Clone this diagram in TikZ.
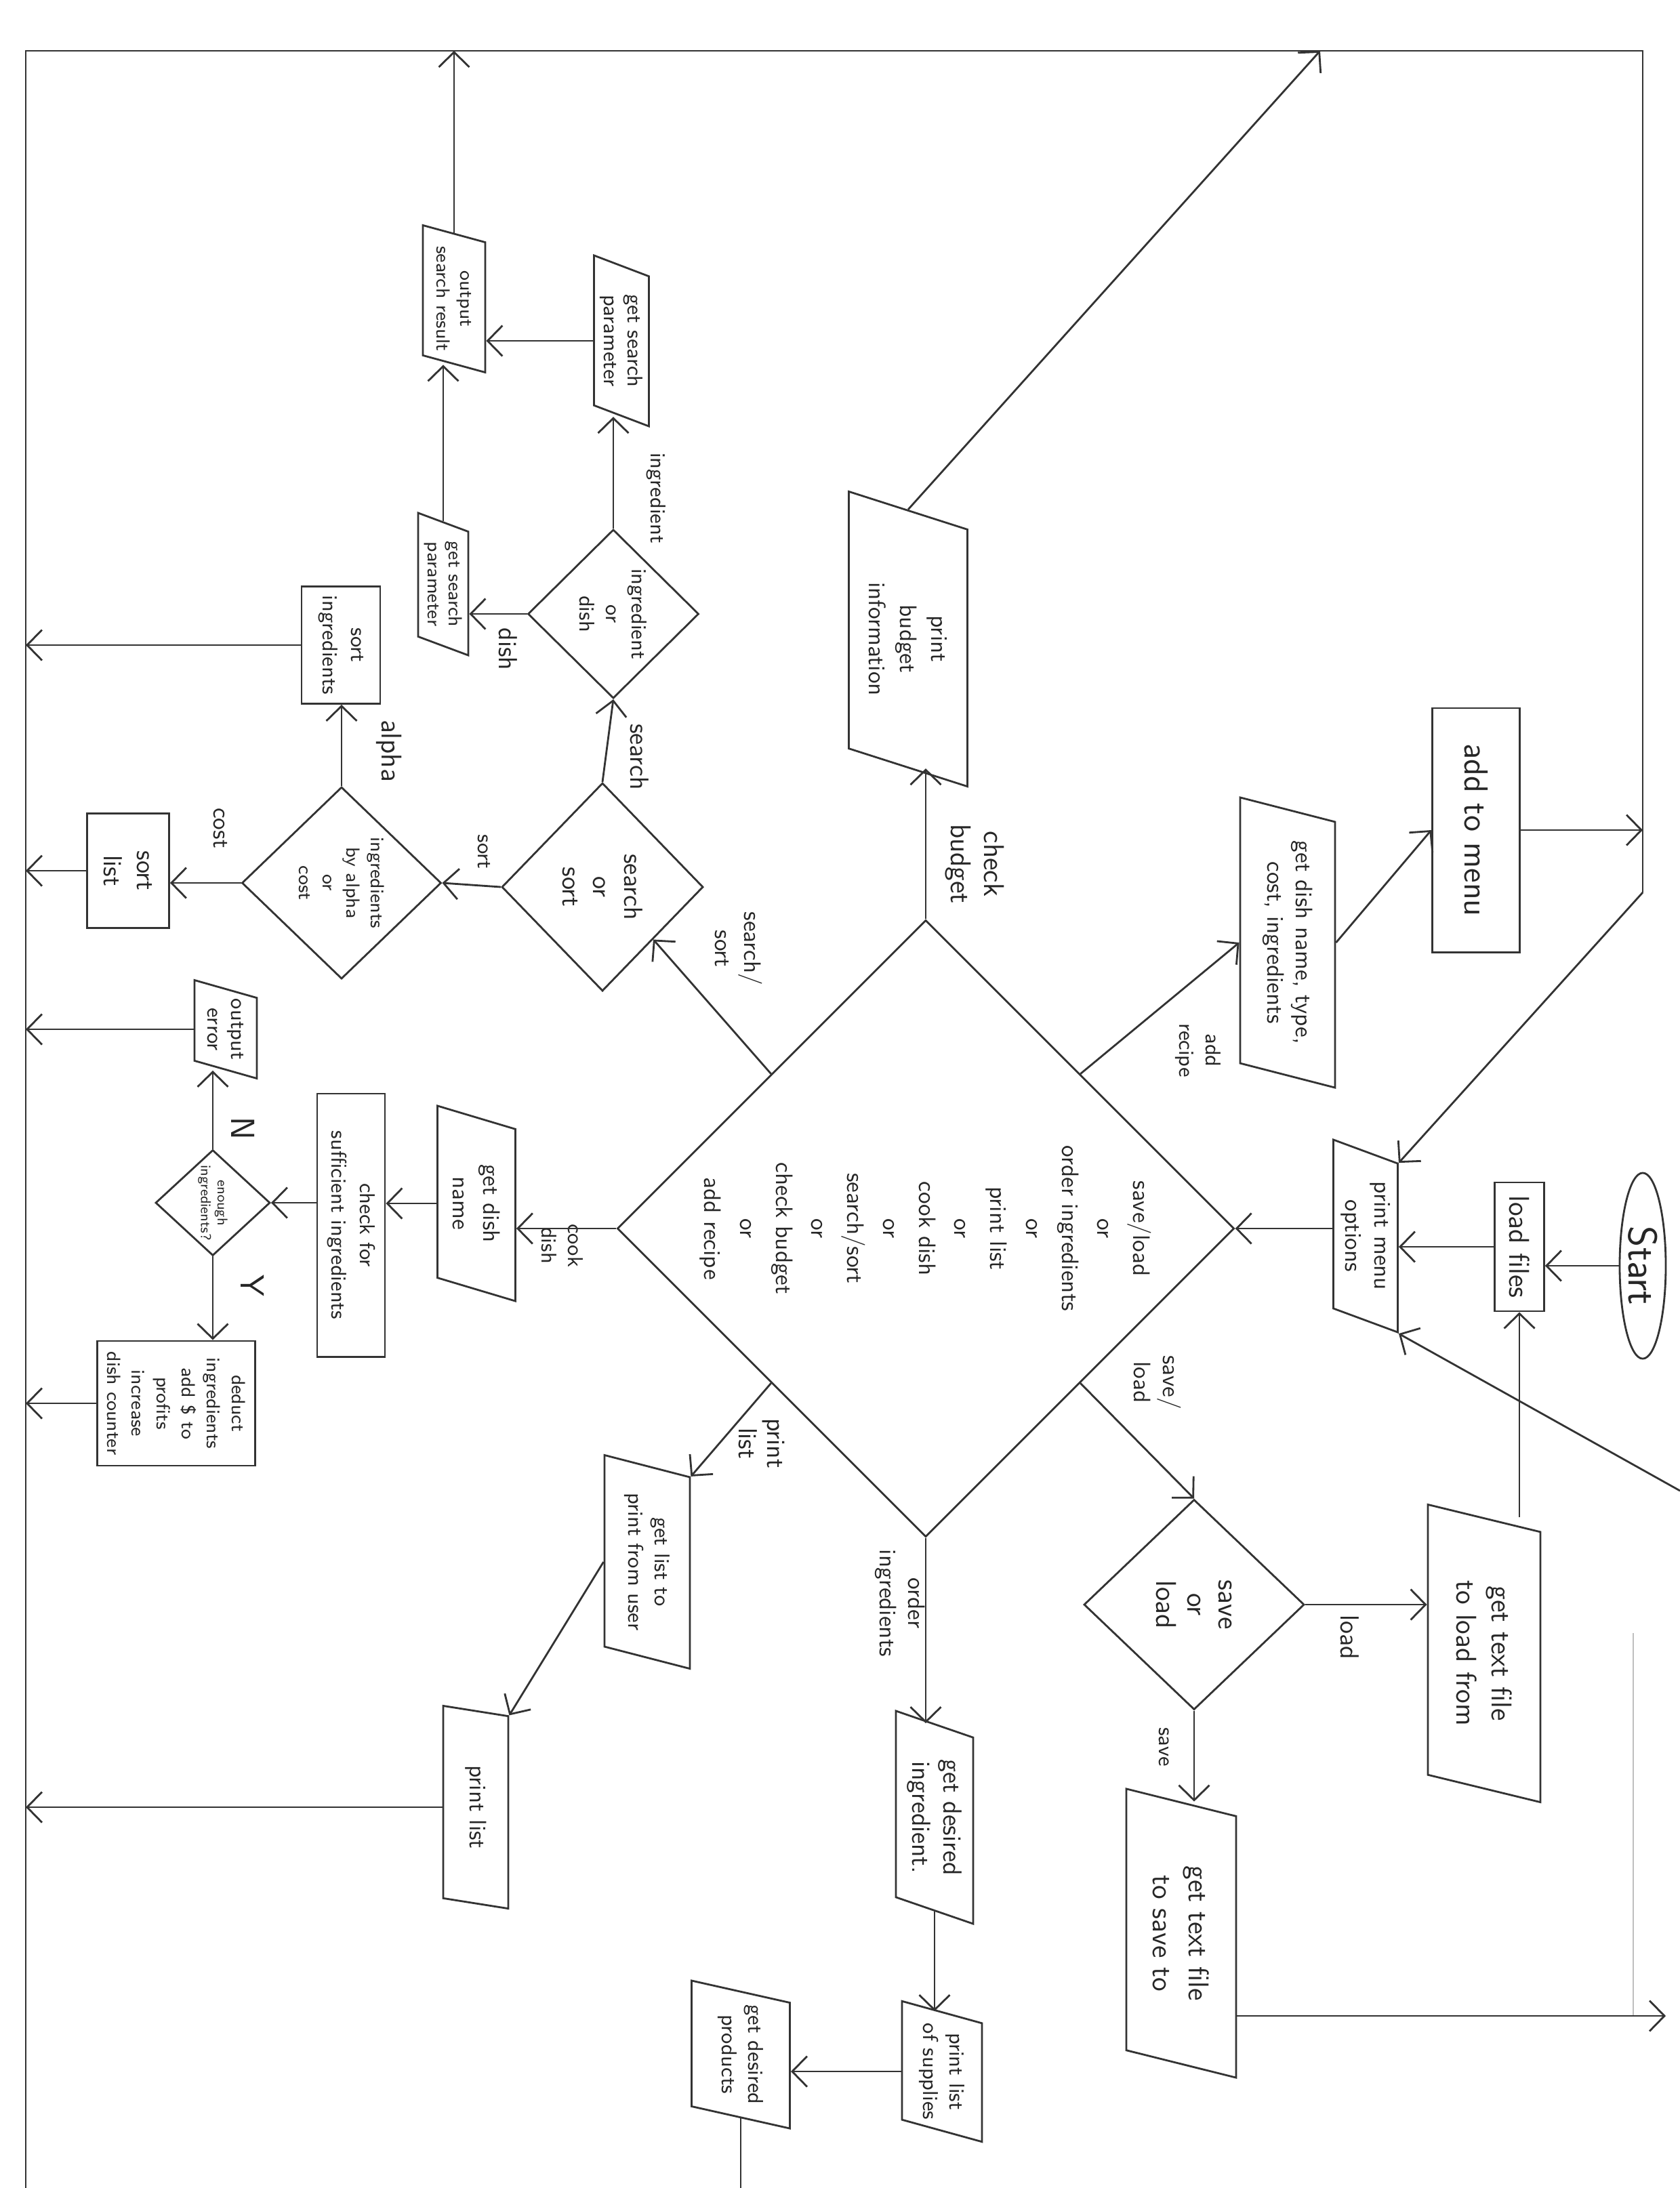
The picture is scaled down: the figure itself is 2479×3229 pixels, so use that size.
\documentclass[tikz,border=0pt]{standalone}
\usetikzlibrary{shapes.geometric,arrows.meta}
\newcommand{\fsz}[2]{\fontsize{#1}{#2}\selectfont}
\tikzset{
	box/.style={draw, rectangle, rotate=-90, inner sep=1pt, align=center},
	inout/.style={draw, trapezium, trapezium left angle=64, trapezium right angle=116, trapezium stretches body, rotate=-90, inner sep=0pt, align=center},
	choice/.style={draw, diamond, rotate=-90, inner sep=0pt, align=center},
	lbl/.style={rotate=-90, align=center, inner sep=1pt},
	arr/.style={-{Straight Barb[length=2.2mm,width=4.5mm]}},
}
\begin{document}
\begin{tikzpicture}[x=0.01cm, y=-0.01cm, line width=0.8pt, draw=black!80, text=black!85, font=\sffamily]
	\useasboundingbox (0,0) rectangle (2479,3229);

	% return lines round the page
	\coordinate (tl) at (38,75);
	\coordinate (tr) at (2424,75);
	\coordinate (bl) at (38,3229);
	\coordinate (rbend) at (2424,1317);
	\coordinate (rlow) at (2479,2200);
	\coordinate (rsave) at (2458,2975);
	\coordinate (ptop) at (1948,75);
	\coordinate (pbot) at (1081,3229);

	% start, menu
	\node[ellipse, draw, rotate=-90, minimum width=2.74cm, minimum height=0.68cm, inner sep=0pt, font=\sffamily\fsz{17}{20}] (start) at (2424,1868) {Start};
	\node[box, minimum width=1.9cm, minimum height=0.73cm, font=\sffamily\fsz{12}{14}] (loadfiles) at (2242,1840) {load files};
	\node[inout, minimum width=2.84cm, minimum height=0.95cm, font=\sffamily\fsz{10}{12}] (pmo) at (2015,1824) {print menu\\options};
	\node[choice, minimum width=9.1cm, minimum height=9.1cm, inner sep=-4mm, font=\sffamily\fsz{10}{15}] (main) at (1366,1813) {save/load\\or\\order ingredients\\or\\print list\\or\\cook dish\\or\\search/sort\\or\\check budget\\or\\add recipe};

	% add recipe
	\node[box, minimum width=3.6cm, minimum height=1.29cm, font=\sffamily\fsz{14}{16}] (addmenu) at (2178,1225) {add to menu};
	\node[inout, minimum width=4.28cm, minimum height=1.4cm, font=\sffamily\fsz{10}{12}] (getdish) at (1900,1391) {get dish name, type,\\cost, ingredients};

	% save / load
	\node[choice, minimum width=3.1cm, minimum height=3.25cm, font=\sffamily\fsz{12}{13}] (saveload) at (1762,2368) {save\\or\\load};
	\node[inout, minimum width=4.39cm, minimum height=1.66cm, font=\sffamily\fsz{12}{15}] (loadfrom) at (2190,2440) {get text file\\to load from};
	\node[inout, minimum width=4.26cm, minimum height=1.62cm, font=\sffamily\fsz{12}{15}] (saveto) at (1743,2853) {get text file\\to save to};

	% order ingredients
	\node[inout, minimum width=3.14cm, minimum height=1.14cm, font=\sffamily\fsz{11}{13}] (getingr) at (1379,2682) {get desired\\ingredient.};
	\node[inout, minimum width=1.85cm, minimum height=1.18cm, font=\sffamily\fsz{9}{11}] (supplies) at (1390,3057) {print list\\of supplies};
	\node[inout, minimum width=2.18cm, minimum height=1.45cm, font=\sffamily\fsz{9}{11}] (products) at (1093,3032) {get desired\\products};

	% print list
	\node[inout, minimum width=3.15cm, minimum height=1.26cm, font=\sffamily\fsz{9}{11}] (getlist) at (955,2305) {get list to\\print from user};
	\node[inout, minimum width=2.99cm, minimum height=0.96cm, font=\sffamily\fsz{10}{12}] (printlist) at (702,2667) {print list};

	% cook dish
	\node[inout, minimum width=2.88cm, minimum height=1.15cm, font=\sffamily\fsz{10}{13}] (dishname) at (703,1776) {get dish\\name};
	\node[box, minimum width=3.88cm, minimum height=1cm, font=\sffamily\fsz{9}{12}] (check) at (518,1808) {check for\\sufficient ingredients};
	\node[choice, minimum width=1.56cm, minimum height=1.69cm, inner sep=-2pt, font=\sffamily\fsz{6}{7}] (enough) at (314,1775) {enough\\ingredients?};
	\node[inout, minimum width=1.45cm, minimum height=0.92cm, font=\sffamily\fsz{9}{10}] (outerr) at (333,1519) {output\\error};
	\node[box, minimum width=1.84cm, minimum height=2.33cm, font=\sffamily\fsz{8}{10.5}] (deduct) at (260,2071) {deduct\\ingredients\\add \$ to\\profits\\increase\\dish counter};

	% search / sort
	\node[choice, minimum width=3.07cm, minimum height=2.97cm, font=\sffamily\fsz{11}{13}] (searchsort) at (889,1309) {search\\or\\sort};
	\node[choice, minimum width=2.83cm, minimum height=2.94cm, font=\sffamily\fsz{8}{10}] (alphacost) at (504,1303) {ingredients\\by alpha\\or\\cost};
	\node[box, minimum width=1.73cm, minimum height=1.16cm, font=\sffamily\fsz{9}{12}] (sortingr) at (503,952) {sort\\ingredients};
	\node[box, minimum width=1.69cm, minimum height=1.21cm, font=\sffamily\fsz{11}{14}] (sortlist) at (189,1285) {sort\\list};
	\node[choice, minimum width=2.49cm, minimum height=2.52cm, font=\sffamily\fsz{9}{11}] (ingrdish) at (905,906) {ingredient\\or\\dish};
	\node[inout, minimum width=2.52cm, minimum height=0.81cm, font=\sffamily\fsz{9}{10}] (getparam1) at (917,503) {get search\\parameter};
	\node[inout, minimum width=2.1cm, minimum height=0.74cm, font=\sffamily\fsz{8}{9}] (getparam2) at (654,862) {get search\\parameter};
	\node[inout, minimum width=2.17cm, minimum height=0.92cm, font=\sffamily\fsz{8}{10}] (outsearch) at (670,441) {output\\search result};

	% check budget
	\node[inout, minimum width=4.35cm, minimum height=1.75cm, font=\sffamily\fsz{10}{13}] (budget) at (1340,943) {print\\budget\\information};

	% branch labels
	\node[lbl, font=\sffamily\fsz{9}{11}] (lrecipe) at (1768,1550) {add\\recipe};
	\node[lbl, font=\sffamily\fsz{10}{12}] (lsaveload) at (1708,2040) {save/\\load};
	\node[lbl, font=\sffamily\fsz{11}{13}] (lload) at (1992,2416) {load};
	\node[lbl, font=\sffamily\fsz{9}{11}] (lsave) at (1718,2578) {save};
	\node[lbl, font=\sffamily\fsz{10}{12}] (lorder) at (1328,2366) {order\\ingredients};
	\node[lbl, font=\sffamily\fsz{11}{12}] (lprint) at (1124,2130) {print\\list};
	\node[lbl, font=\sffamily\fsz{9}{11}] (lcook) at (830,1838) {cook\\dish};
	\node[lbl, font=\sffamily\fsz{14}{16}] (lno) at (359,1665) {N};
	\node[lbl, font=\sffamily\fsz{14}{16}] (lyes) at (373,1897) {Y};
	\node[lbl, font=\sffamily\fsz{10}{12}] (lsearchsort) at (1090,1400) {search/\\sort};
	\node[lbl, font=\sffamily\fsz{11}{13}] (lsearch) at (944,1117) {search};
	\node[lbl, font=\sffamily\fsz{9}{11}] (lsort) at (714,1257) {sort};
	\node[lbl, font=\sffamily\fsz{12}{14}] (lalpha) at (574,1108) {alpha};
	\node[lbl, font=\sffamily\fsz{10}{12}] (lcost) at (325,1222) {cost};
	\node[lbl, font=\sffamily\fsz{9}{11}] (lingr) at (968,735) {ingredient};
	\node[lbl, font=\sffamily\fsz{11}{13}] (ldish) at (750,958) {dish};
	\node[lbl, font=\sffamily\fsz{12}{14}] (lbudget) at (1438,1275) {check\\budget};

	% frame and returns
	\draw (bl) -- (tl) -- (tr) -- (rbend);
	\draw[arr] (rbend) -- (pmo.top left corner);
	\draw[arr] (rlow) -- (pmo.top right corner);
	\draw[black!25] (2410,2410) -- (2410,2975);

	% main flow
	\draw[arr] (start.south) -- (start.south -| loadfiles.north);
	\draw[arr] (loadfiles.south) -- (loadfiles.south -| pmo.north);
	\draw[arr] (loadfrom.west -| loadfiles.east) -- (loadfiles.east);
	\draw[arr] (pmo.south |- main.north) -- (main.north);

	\draw[arr] (main.north west) -- (getdish.south); %add recipe
	\draw[arr] (getdish.north) -- (addmenu.south);
	\draw[arr] (addmenu.north) -- (addmenu.north -| tr);

	\draw[arr] (main.north east) -- (saveload.west); %save/load
	\draw[arr] (saveload.north) -- (saveload.north -| loadfrom.south);
	\draw[arr] (saveload.east) -- (saveload.east |- saveto.west);
	\draw[arr] (saveto.north |- rsave) -- (rsave);

	\draw[arr] (main.east) -- (main.east |- getingr.west); %order
	\draw[arr] (getingr.east) -- (getingr.east |- supplies.west);
	\draw[arr] (supplies.south) -- (supplies.south -| products.north);
	\draw (products.east) -- (products.east |- pbot);

	\draw[arr] (main.south east) -- (getlist.top left corner); %print list
	\draw[arr] (getlist.south) -- (printlist.top left corner);
	\draw[arr] (printlist.south) -- (printlist.south -| bl);

	\draw[arr] (main.south) -- (main.south -| dishname.north); %cook
	\draw[arr] (dishname.south) -- (dishname.south -| check.north);
	\draw[arr] (check.south |- enough.north) -- (enough.north);
	\draw[arr] (enough.west) -- (enough.west |- outerr.east);
	\draw[arr] (enough.east) -- (enough.east |- deduct.west);
	\draw[arr] (outerr.south) -- (outerr.south -| bl);
	\draw[arr] (deduct.south) -- (deduct.south -| bl);

	\draw[arr] (main.south west) -- (searchsort.north east); %search/sort
	\draw[arr] (searchsort.west) -- (ingrdish.east);
	\draw[arr] (searchsort.south) -- (alphacost.north);
	\draw[arr] (alphacost.west) -- (alphacost.west |- sortingr.east);
	\draw[arr] (alphacost.south) -- (alphacost.south -| sortlist.north);
	\draw[arr] (sortingr.south) -- (sortingr.south -| bl);
	\draw[arr] (sortlist.south) -- (sortlist.south -| bl);
	\draw[arr] (ingrdish.west) -- (ingrdish.west |- getparam1.east);
	\draw[arr] (ingrdish.south) -- (ingrdish.south -| getparam2.north);
	\draw[arr] (getparam1.south) -- (getparam1.south -| outsearch.north);
	\draw[arr] (getparam2.west) -- (getparam2.west |- outsearch.east);
	\draw[arr] (outsearch.west) -- (outsearch.west |- tl);

	\draw[arr] (main.west) -- (main.west |- budget.east); %budget
	\draw[arr] (budget.west) -- (ptop);
\end{tikzpicture}
\end{document}
